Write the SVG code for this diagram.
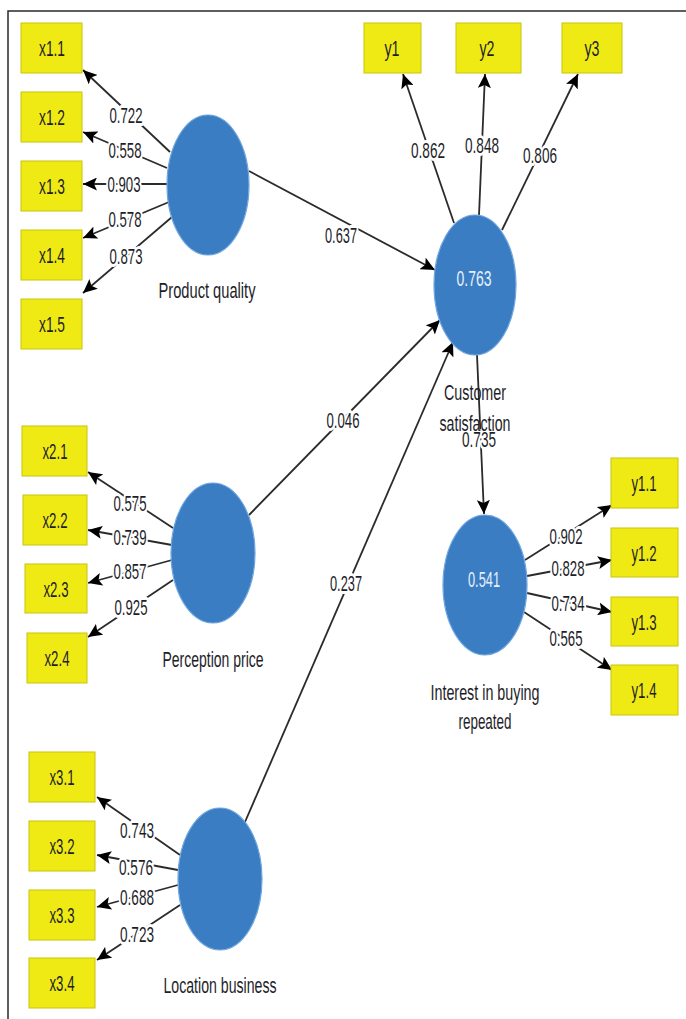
<svg xmlns="http://www.w3.org/2000/svg" width="686" height="1019" viewBox="0 0 686 1019">
<style>
.frame{fill:none;stroke:#2a2a2a;stroke-width:1.5}
.box{fill:#EFEA14;stroke:#C9C40A;stroke-width:1}
.lv{fill:#3B7DC2;stroke:#6FA6E0;stroke-width:1.2}
.c{fill:none;stroke:#2b2b2b;stroke-width:1.8;marker-end:url(#ah)}
text{font-family:"Liberation Sans",Arial,sans-serif;font-size:22px;text-anchor:middle;fill:#1e1e2a}
.w{stroke:#fff;stroke-width:6;paint-order:stroke;stroke-linejoin:round}
.in{fill:#E6F0FA}
</style>
<defs>
<marker id="ah" markerUnits="userSpaceOnUse" markerWidth="15" markerHeight="13" refX="14" refY="6.5" orient="auto">
<path d="M0,0 L14,6.5 L0,13 L3,6.5 Z" fill="#000"/>
</marker>
</defs>
<rect width="686" height="1019" fill="#fff"/>
<path class="frame" d="M8,1019 L8,11 L686,11"/>

<g id="connectors">
<line class="c" x1="170" y1="152" x2="83" y2="70"/>
<line class="c" x1="167" y1="168" x2="83" y2="132"/>
<line class="c" x1="167" y1="184" x2="83" y2="184"/>
<line class="c" x1="169" y1="202" x2="83" y2="238"/>
<line class="c" x1="172" y1="217" x2="83" y2="293"/>
<line class="c" x1="454" y1="223" x2="403" y2="74"/>
<line class="c" x1="479" y1="215" x2="485" y2="74"/>
<line class="c" x1="502" y1="230" x2="578" y2="74"/>
<line class="c" x1="249" y1="171" x2="435" y2="270"/>
<line class="c" x1="249" y1="515" x2="440" y2="320"/>
<line class="c" x1="245" y1="822" x2="453" y2="342"/>
<line class="c" x1="477" y1="355" x2="484" y2="514"/>
<line class="c" x1="525" y1="560" x2="612" y2="505"/>
<line class="c" x1="527" y1="576" x2="612" y2="560"/>
<line class="c" x1="527" y1="593" x2="612" y2="612"/>
<line class="c" x1="524" y1="612" x2="612" y2="670"/>
<line class="c" x1="173" y1="528" x2="88" y2="472"/>
<line class="c" x1="172" y1="545" x2="88" y2="530"/>
<line class="c" x1="172" y1="560" x2="88" y2="583"/>
<line class="c" x1="173" y1="580" x2="88" y2="637"/>
<line class="c" x1="180" y1="855" x2="97" y2="797"/>
<line class="c" x1="178" y1="870" x2="97" y2="855"/>
<line class="c" x1="178" y1="885" x2="97" y2="907"/>
<line class="c" x1="180" y1="905" x2="97" y2="960"/>
</g>

<g id="edge-labels">
<text class="w" x="126" y="123" textLength="33" lengthAdjust="spacingAndGlyphs">0.722</text>
<text class="w" x="125" y="158" textLength="33" lengthAdjust="spacingAndGlyphs">0.558</text>
<text class="w" x="124" y="192" textLength="33" lengthAdjust="spacingAndGlyphs">0.903</text>
<text class="w" x="125" y="227" textLength="33" lengthAdjust="spacingAndGlyphs">0.578</text>
<text class="w" x="126" y="264" textLength="33" lengthAdjust="spacingAndGlyphs">0.873</text>
<text class="w" x="428" y="158" textLength="34" lengthAdjust="spacingAndGlyphs">0.862</text>
<text class="w" x="482" y="153" textLength="34" lengthAdjust="spacingAndGlyphs">0.848</text>
<text class="w" x="540" y="163" textLength="34" lengthAdjust="spacingAndGlyphs">0.806</text>
<text class="w" x="341" y="243" textLength="32" lengthAdjust="spacingAndGlyphs">0.637</text>
<text class="w" x="343" y="428" textLength="33" lengthAdjust="spacingAndGlyphs">0.046</text>
<text class="w" x="346" y="591" textLength="32" lengthAdjust="spacingAndGlyphs">0.237</text>
<text class="w" x="479" y="447" textLength="34" lengthAdjust="spacingAndGlyphs">0.735</text>
<text class="w" x="566" y="544" textLength="33" lengthAdjust="spacingAndGlyphs">0.902</text>
<text class="w" x="568" y="576" textLength="33" lengthAdjust="spacingAndGlyphs">0.828</text>
<text class="w" x="568" y="611" textLength="33" lengthAdjust="spacingAndGlyphs">0.734</text>
<text class="w" x="566" y="646" textLength="33" lengthAdjust="spacingAndGlyphs">0.565</text>
<text class="w" x="130" y="511" textLength="33" lengthAdjust="spacingAndGlyphs">0.575</text>
<text class="w" x="130" y="545" textLength="33" lengthAdjust="spacingAndGlyphs">0.739</text>
<text class="w" x="130" y="579" textLength="33" lengthAdjust="spacingAndGlyphs">0.857</text>
<text class="w" x="131" y="615" textLength="33" lengthAdjust="spacingAndGlyphs">0.925</text>
<text class="w" x="137" y="838" textLength="34" lengthAdjust="spacingAndGlyphs">0.743</text>
<text class="w" x="136" y="875" textLength="34" lengthAdjust="spacingAndGlyphs">0.576</text>
<text class="w" x="137" y="905" textLength="34" lengthAdjust="spacingAndGlyphs">0.688</text>
<text class="w" x="137" y="942" textLength="34" lengthAdjust="spacingAndGlyphs">0.723</text>
</g>

<g id="product-quality">
<ellipse class="lv" cx="208" cy="185" rx="41" ry="70"/>
<text x="207" y="298" textLength="97" lengthAdjust="spacingAndGlyphs">Product quality</text>
</g>
<g id="customer-satisfaction">
<ellipse class="lv" cx="475" cy="285" rx="41" ry="70"/>
<text class="in" x="474" y="286" textLength="35" lengthAdjust="spacingAndGlyphs">0.763</text>
<text x="475" y="400" textLength="62" lengthAdjust="spacingAndGlyphs">Customer</text>
<text x="475" y="431" textLength="71" lengthAdjust="spacingAndGlyphs">satisfaction</text>
</g>
<g id="perception-price">
<ellipse class="lv" cx="213" cy="553" rx="42" ry="70"/>
<text x="213" y="667" textLength="101" lengthAdjust="spacingAndGlyphs">Perception price</text>
</g>
<g id="location-business">
<ellipse class="lv" cx="220" cy="879" rx="42" ry="71"/>
<text x="220" y="993" textLength="113" lengthAdjust="spacingAndGlyphs">Location business</text>
</g>
<g id="interest-in-buying-repeated">
<ellipse class="lv" cx="485" cy="585" rx="42" ry="70"/>
<text class="in" x="484" y="587" textLength="32" lengthAdjust="spacingAndGlyphs">0.541</text>
<text x="485" y="700" textLength="109" lengthAdjust="spacingAndGlyphs">Interest in buying</text>
<text x="485" y="729" textLength="53" lengthAdjust="spacingAndGlyphs">repeated</text>
</g>

<g id="x1.1"><rect class="box" x="21" y="23" width="61" height="50"/><text x="52" y="56" textLength="26" lengthAdjust="spacingAndGlyphs">x1.1</text></g>
<g id="x1.2"><rect class="box" x="21" y="92" width="61" height="50"/><text x="52" y="125" textLength="26" lengthAdjust="spacingAndGlyphs">x1.2</text></g>
<g id="x1.3"><rect class="box" x="21" y="161" width="61" height="50"/><text x="52" y="194" textLength="26" lengthAdjust="spacingAndGlyphs">x1.3</text></g>
<g id="x1.4"><rect class="box" x="21" y="230" width="61" height="50"/><text x="52" y="263" textLength="26" lengthAdjust="spacingAndGlyphs">x1.4</text></g>
<g id="x1.5"><rect class="box" x="21" y="299" width="61" height="50"/><text x="52" y="332" textLength="26" lengthAdjust="spacingAndGlyphs">x1.5</text></g>

<g id="y1"><rect class="box" x="364" y="23" width="57" height="50"/><text x="392" y="56" textLength="15" lengthAdjust="spacingAndGlyphs">y1</text></g>
<g id="y2"><rect class="box" x="456" y="23" width="65" height="50"/><text x="487" y="56" textLength="15" lengthAdjust="spacingAndGlyphs">y2</text></g>
<g id="y3"><rect class="box" x="562" y="23" width="60" height="50"/><text x="592" y="56" textLength="15" lengthAdjust="spacingAndGlyphs">y3</text></g>

<g id="x2.1"><rect class="box" x="22" y="426" width="65" height="50"/><text x="55" y="459" textLength="25" lengthAdjust="spacingAndGlyphs">x2.1</text></g>
<g id="x2.2"><rect class="box" x="23" y="495" width="64" height="50"/><text x="55" y="528" textLength="25" lengthAdjust="spacingAndGlyphs">x2.2</text></g>
<g id="x2.3"><rect class="box" x="25" y="564" width="62" height="49"/><text x="56" y="597" textLength="25" lengthAdjust="spacingAndGlyphs">x2.3</text></g>
<g id="x2.4"><rect class="box" x="27" y="633" width="60" height="50"/><text x="57" y="666" textLength="25" lengthAdjust="spacingAndGlyphs">x2.4</text></g>

<g id="x3.1"><rect class="box" x="29" y="752" width="66" height="50"/><text x="62" y="785" textLength="25" lengthAdjust="spacingAndGlyphs">x3.1</text></g>
<g id="x3.2"><rect class="box" x="29" y="821" width="66" height="50"/><text x="62" y="854" textLength="25" lengthAdjust="spacingAndGlyphs">x3.2</text></g>
<g id="x3.3"><rect class="box" x="29" y="890" width="66" height="50"/><text x="62" y="923" textLength="25" lengthAdjust="spacingAndGlyphs">x3.3</text></g>
<g id="x3.4"><rect class="box" x="29" y="958" width="66" height="50"/><text x="62" y="991" textLength="25" lengthAdjust="spacingAndGlyphs">x3.4</text></g>

<g id="y1.1"><rect class="box" x="611" y="458" width="67" height="50"/><text x="644" y="491" textLength="25" lengthAdjust="spacingAndGlyphs">y1.1</text></g>
<g id="y1.2"><rect class="box" x="611" y="528" width="67" height="49"/><text x="644" y="561" textLength="25" lengthAdjust="spacingAndGlyphs">y1.2</text></g>
<g id="y1.3"><rect class="box" x="611" y="597" width="67" height="49"/><text x="644" y="630" textLength="25" lengthAdjust="spacingAndGlyphs">y1.3</text></g>
<g id="y1.4"><rect class="box" x="611" y="665" width="67" height="50"/><text x="644" y="698" textLength="25" lengthAdjust="spacingAndGlyphs">y1.4</text></g>
</svg>
